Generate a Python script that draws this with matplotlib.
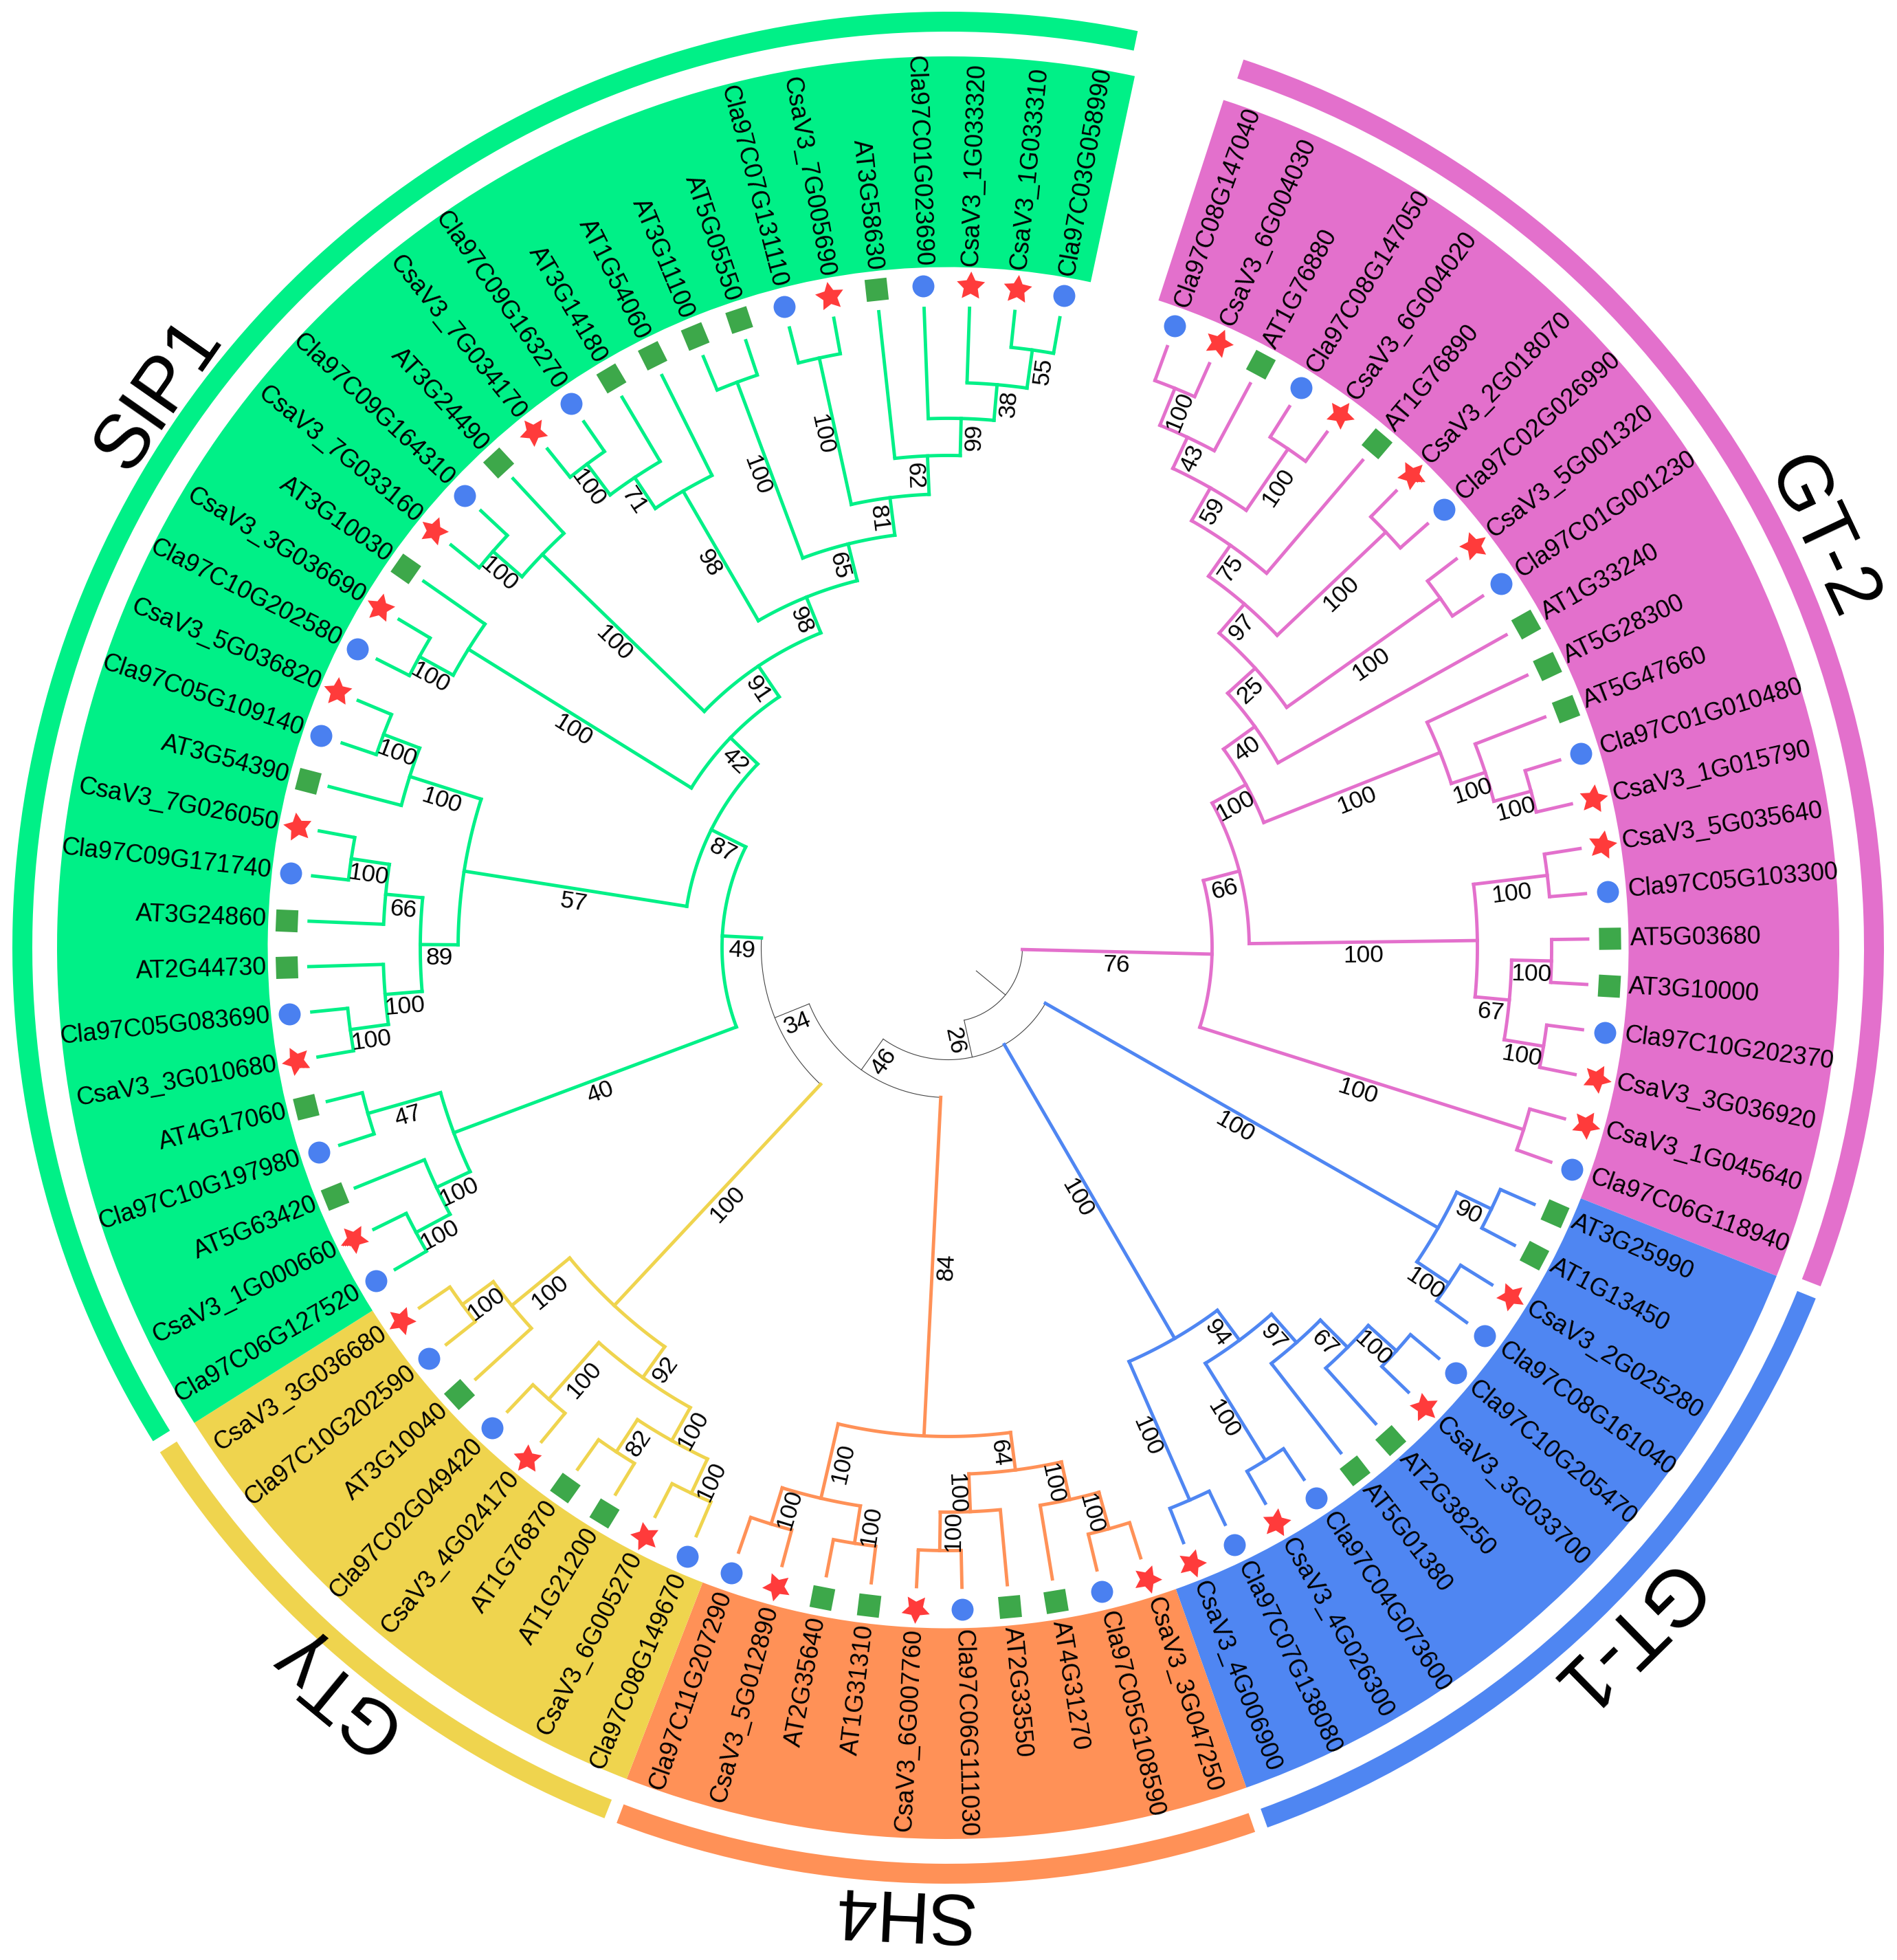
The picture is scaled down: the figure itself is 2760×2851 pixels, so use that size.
import numpy as np
import matplotlib
matplotlib.use("Agg")
import matplotlib.pyplot as plt
from matplotlib.path import Path
from matplotlib.transforms import Affine2D

plt.rcParams['font.family'] = ['Liberation Sans', 'DejaVu Sans']

# tip labels, clockwise from the top gap
gt2_tips = ["Cla97C08G147040", "CsaV3_6G004030", "AT1G76880", "Cla97C08G147050", "CsaV3_6G004020",
            "AT1G76890", "CsaV3_2G018070", "Cla97C02G026990", "CsaV3_5G001320", "Cla97C01G001230",
            "AT1G33240", "AT5G28300", "AT5G47660", "Cla97C01G010480", "CsaV3_1G015790",
            "CsaV3_5G035640", "Cla97C05G103300", "AT5G03680", "AT3G10000", "Cla97C10G202370",
            "CsaV3_3G036920", "CsaV3_1G045640", "Cla97C06G118940"]
gt1_tips = ["AT3G25990", "AT1G13450", "CsaV3_2G025280", "Cla97C08G161040", "Cla97C10G205470",
            "CsaV3_3G033700", "AT2G38250", "AT5G01380", "Cla97C04G073600", "CsaV3_4G026300",
            "Cla97C07G138080", "CsaV3_4G006900"]
sh4_tips = ["CsaV3_3G047250", "Cla97C05G108590", "AT4G31270", "AT2G33550", "Cla97C06G111030",
            "CsaV3_6G007760", "AT1G31310", "AT2G35640", "CsaV3_5G012890", "Cla97C11G207290"]
gty_tips = ["Cla97C08G149670", "CsaV3_6G005270", "AT1G21200", "AT1G76870", "CsaV3_4G024170",
            "Cla97C02G049420", "AT3G10040", "Cla97C10G202590", "CsaV3_3G036680"]
sip1_tips = ["Cla97C06G127520", "CsaV3_1G000660", "AT5G63420", "Cla97C10G197980", "AT4G17060",
             "CsaV3_3G010680", "Cla97C05G083690", "AT2G44730", "AT3G24860", "Cla97C09G171740",
             "CsaV3_7G026050", "AT3G54390", "Cla97C05G109140", "CsaV3_5G036820", "Cla97C10G202580",
             "CsaV3_3G036690", "AT3G10030", "CsaV3_7G033160", "Cla97C09G164310", "AT3G24490",
             "CsaV3_7G034170", "Cla97C09G163270", "AT3G14180", "AT1G54060", "AT3G11100",
             "AT5G05550", "Cla97C07G131110", "CsaV3_7G005690", "AT3G58630", "Cla97C01G023690",
             "CsaV3_1G033320", "CsaV3_1G033310", "Cla97C03G058990"]

clade_names = ["GT-2", "GT-1", "SH4", "GT\u03b3", "SIP1"]
clade_tips = [gt2_tips, gt1_tips, sh4_tips, gty_tips, sip1_tips]
band_colors = ["#E370CC", "#4F86F2", "#FF9157", "#EFD44E", "#00F087"]
name_angles = [64.8, 135.5, 182.8, 219.5, 305.0]
name_sizes = [80, 84, 76, 80, 80]

all_tips = sum(clade_tips, [])

# tree nodes: (node radius, bootstrap, children); an int child is a tip index
# GT-2
n_a = (878, 100, [0, 1])
n_b = (820, 43, [n_a, 2])
n_d = (878, 100, [3, 4])
n_c = (770, 59, [n_b, n_d])
n_e = (715, 75, [n_c, 5])
n_g = (878, 100, [6, 7])
n_f = (660, 97, [n_e, n_g])
n_i = (878, 100, [8, 9])
n_h = (604, 25, [n_f, n_i])
n_j = (550, 40, [n_h, 10])
n_o = (878, 100, [13, 14])
n_n = (822, 100, [12, n_o])
n_m = (770, 100, [11, n_n])
n_l = (494, 100, [n_j, n_m])
n_t = (878, 100, [15, 16])
n_bb = (878, 100, [17, 18])
n_cc = (878, 100, [19, 20])
n_aa = (820, 67, [n_bb, n_cc])
n_q = (770, 100, [n_t, n_aa])
n_p = (438, 66, [n_l, n_q])
n_s = (878, 100, [21, 22])
gt2_root = (384, 76, [n_p, n_s], band_colors[0])

# GT-1, two branches off the backbone
g1_ee = (877, 90, [23, 24])
g1_ff = (877, 100, [25, 26])
gt1a_root = (821, 100, [g1_ee, g1_ff], band_colors[1])
g1_mm = (877, 100, [27, 28])
g1_ll = (822, 67, [g1_mm, 29])
g1_kk = (766, 97, [g1_ll, 30])
g1_jj = (877, 100, [31, 32])
g1_ii = (711, 94, [g1_kk, g1_jj])
g1_hh = (877, 100, [33, 34])
gt1b_root = (657, 100, [g1_ii, g1_hh], band_colors[1])

# SH4
s_tt = (877, 100, [35, 36])
s_rr = (822, 100, [s_tt, 37])
s_ss = (877, 100, [39, 40])
s_qq = (821, 100, [38, s_ss])
s_oo = (766, 64, [s_rr, s_qq])
s_vv = (877, 100, [41, 42])
s_uu = (877, 100, [43, 44])
s_pp = (822, 100, [s_vv, s_uu])
sh4_root = (711, 84, [s_oo, s_pp], band_colors[2])

# GTy
y_dd = (877, 100, [45, 46])
y_cc = (878, 82, [47, 48])
y_bb = (822, 100, [y_dd, y_cc])
y_aa = (877, 100, [49, 50])
y_yy = (767, 92, [y_bb, y_aa])
y_zz = (877, 100, [52, 53])
y_xx = (821, 100, [51, y_zz])
gty_root = (712, 100, [y_yy, y_xx], band_colors[3])

# SIP1
g_aj = (878, 100, [54, 55])
g_ai = (822, 100, [g_aj, 56])
g_ah = (878, 47, [57, 58])
g_ee = (768, 40, [g_ai, g_ah])
g_oo = (878, 100, [59, 60])
g_nn = (822, 100, [g_oo, 61])
g_mm = (878, 100, [63, 64])
g_ll = (822, 66, [62, g_mm])
g_jj = (768, 89, [g_nn, g_ll])
g_kk = (878, 100, [66, 67])
g_ii = (822, 100, [65, g_kk])
g_gg = (713, 57, [g_jj, g_ii])
g_rr = (878, 100, [68, 69])
g_pp = (822, 100, [g_rr, 70])
g_uu = (878, 100, [71, 72])
g_ss = (822, 100, [g_uu, 73])
g_yy = (878, 100, [74, 75])
g_xx = (822, 71, [g_yy, 76])
g_vv = (768, 98, [g_xx, 77])
g_zz = (878, 100, [78, 79])
g_ac = (878, 100, [80, 81])
g_ag = (878, 55, [85, 86])
g_af = (822, 38, [84, g_ag])
g_ae = (770, 99, [83, g_af])
g_ad = (716, 62, [82, g_ae])
g_ab = (660, 81, [g_ac, g_ad])
g_ww = (605, 65, [g_zz, g_ab])
g_tt = (550, 98, [g_vv, g_ww])
g_qq = (494, 91, [g_ss, g_tt])
g_hh = (440, 42, [g_pp, g_qq])
g_ff = (385, 87, [g_gg, g_hh])
sip1_root = (329, 49, [g_ee, g_ff], band_colors[4])

# thin black backbone
back_v = (272, 34, [gty_root, sip1_root])
back_w = (218, 46, [sh4_root, back_v])
back_y = (163, 26, [gt1a_root, gt1b_root, back_w])
root = (108, None, [gt2_root, back_y], "#444444")

ROOT_END = 53
TIP_END = 933
MARK_R = 963
LABEL_R = 992
BAND_IN, BAND_OUT = 990, 1296.5
RING_IN, RING_OUT = 1332.5, 1361.5
NAME_R = 1402

START = 18.0
STEP = 4.07


def tip_angle(i):
    return START + (i + 0.5) * STEP


def node_angle(node):
    if isinstance(node, int):
        return tip_angle(node)
    kids = node[2]
    return (node_angle(kids[0]) + node_angle(kids[-1])) / 2


def text_rot(theta):
    theta = theta % 360
    if theta < 180:
        return 90 - theta, 'left'
    return 270 - theta, 'right'


def draw_node(ax, node, parent_r, color):
    if isinstance(node, int):
        t = np.radians(tip_angle(node))
        ax.plot([t, t], [parent_r, TIP_END], color=color, lw=3.5, solid_capstyle='butt')
        return
    r, support, kids = node[:3]
    if len(node) > 3:
        color = node[3]
    lw = 0.8 if color == "#444444" else 3.5
    theta = node_angle(node)
    t = np.radians(theta)
    ax.plot([t, t], [parent_r, r], color=color, lw=lw, solid_capstyle='projecting')
    arc = np.radians(np.linspace(node_angle(kids[0]), node_angle(kids[-1]), 60))
    ax.plot(arc, np.full(60, r), color=color, lw=lw, solid_capstyle='projecting')
    if support is not None:
        rot, _ = text_rot(theta)
        mid = (parent_r + r) / 2
        # label sits under the branch, seen in its own reading direction
        side = 1 if theta % 360 < 180 else -1
        ax.text(t + side * 20 / mid, mid, str(support), rotation=rot, rotation_mode='anchor',
                ha='center', va='center', fontsize=25.5, color='black', zorder=5)
    for k in kids:
        draw_node(ax, k, r, color)


def draw_marker(ax, i, name):
    theta = tip_angle(i)
    t = np.radians(theta)
    if name.startswith("AT"):
        ax.plot(t, MARK_R, marker=(4, 0, 45 - theta), ms=32.6, color="#3DA84A", mew=0)
    elif name.startswith("Cla"):
        ax.plot(t, MARK_R, marker='o', ms=23, color="#4A80F0", mew=0)
    else:
        star = Path.unit_regular_star(5, innerCircle=0.5).transformed(Affine2D().rotate_deg(-theta))
        ax.plot(t, MARK_R, marker=star, ms=31, color="#FF3B3B", mew=0)


fig = plt.figure(figsize=(27.6, 28.51), dpi=100)
ax = fig.add_axes([-0.5 / 2760, 92.5 / 2851, 2760 / 2760, 2760 / 2851], projection='polar')
ax.set_theta_zero_location('N')
ax.set_theta_direction(-1)

first = 0
for k, (tips, color) in enumerate(zip(clade_tips, band_colors)):
    a0 = START + first * STEP
    a1 = START + (first + len(tips)) * STEP
    mid = np.radians((a0 + a1) / 2)
    ax.bar(mid, BAND_OUT - BAND_IN, width=np.radians(a1 - a0), bottom=BAND_IN, color=color, lw=0)
    ax.bar(mid, RING_OUT - RING_IN, width=np.radians(a1 - a0 - 0.8), bottom=RING_IN, color=color, lw=0)
    ax.text(np.radians(name_angles[k]), NAME_R, clade_names[k], rotation=-name_angles[k],
            rotation_mode='anchor', ha='center', va='center', fontsize=name_sizes[k], color='black')
    first += len(tips)

# root stub
root_t = np.radians(node_angle(root))
ax.plot([root_t, root_t], [ROOT_END, root[0]], color="#444444", lw=0.8)
draw_node(ax, root, root[0], "#444444")

for i, name in enumerate(all_tips):
    draw_marker(ax, i, name)
    theta = tip_angle(i)
    rot, ha = text_rot(theta)
    ax.text(np.radians(theta), LABEL_R, name, rotation=rot, rotation_mode='anchor',
            ha=ha, va='center', fontsize=25.8, color='black')

ax.set_ylim(0, 1380)
ax.axis('off')
fig.savefig("out.png", dpi=100)
